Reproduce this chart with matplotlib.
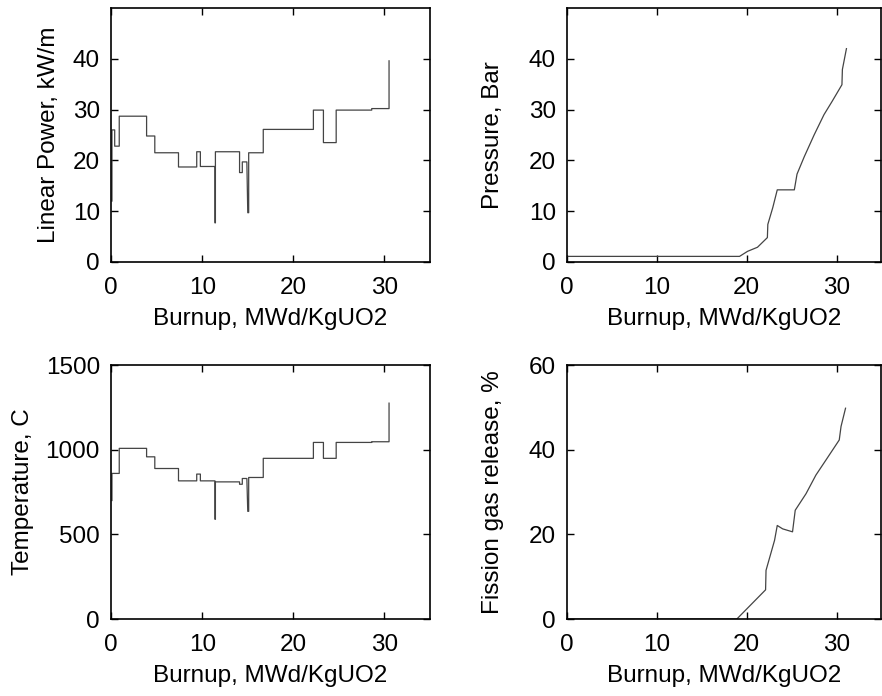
import matplotlib
matplotlib.use("Agg")
import matplotlib.pyplot as plt

# Burnup history (MWd/KgUO2)
burnup_lp = [0.1, 0.1, 0.4, 0.4, 0.9, 0.9, 3.9, 3.9, 4.8, 4.8, 7.4, 7.4, 9.4, 9.4,
             9.8, 9.8, 11.4, 11.4, 11.45, 11.45, 14.1, 14.1, 14.4, 14.4, 14.9,
             15.0, 15.1, 15.1, 16.7, 16.7, 22.2, 22.2, 23.3, 23.3, 24.7, 24.7,
             28.6, 28.6, 30.5, 30.5]
linear_power = [12.0, 26.0, 26.0, 22.8, 22.8, 28.7, 28.7, 24.8, 24.8, 21.5, 21.5,
                18.7, 18.7, 21.7, 21.7, 18.8, 18.8, 7.7, 7.7, 21.7, 21.7, 17.6,
                17.6, 19.7, 19.7, 9.7, 9.7, 21.5, 21.5, 26.1, 26.1, 29.9, 29.9,
                23.5, 23.5, 29.9, 29.9, 30.2, 30.2, 39.6]

burnup_t = [0.1, 0.1, 0.9, 0.9, 3.9, 3.9, 4.8, 4.8, 7.4, 7.4, 9.4, 9.4, 9.8, 9.8,
            11.4, 11.4, 11.45, 11.45, 14.1, 14.1, 14.4, 14.4, 14.9, 15.0, 15.1,
            15.1, 16.7, 16.7, 22.2, 22.2, 23.3, 23.3, 24.7, 24.7, 28.6, 28.6,
            30.5, 30.5]
temperature = [700, 860, 860, 1008, 1008, 958, 958, 889, 889, 816, 816, 856, 856,
               816, 816, 589, 589, 810, 810, 796, 796, 830, 830, 636, 636, 836,
               836, 949, 949, 1043, 1043, 949, 949, 1043, 1043, 1047, 1047, 1275]

burnup_p = [0, 19.2, 20.1, 21.2, 22.3, 22.35, 22.9, 23.4, 25.3, 25.6, 26.4, 27.5,
            28.6, 29.5, 30.6, 30.65, 31.1]
pressure = [1.1, 1.1, 2.1, 2.9, 4.8, 7.4, 10.7, 14.2, 14.2, 17.3, 20.7, 25.0,
            29.0, 31.6, 34.9, 37.9, 42.0]

burnup_f = [0, 18.9, 22.1, 22.15, 23.1, 23.4, 24.0, 25.1, 25.4, 26.6, 27.7, 28.8,
            30.3, 30.5, 31.0]
fgr = [0, 0, 6.9, 11.5, 18.6, 22.1, 21.3, 20.6, 25.7, 29.6, 34.0, 37.5, 42.3,
       45.5, 49.8]

XTICKS = [0, 10, 20, 30]
XLABEL = "Burnup, MWd/KgUO2"

plt.rcParams["font.family"] = "Liberation Sans"
plt.rcParams["font.size"] = 17.5

fig = plt.figure(figsize=(8.82, 6.96), dpi=100)

# (axes rect, x, y, ylim, yticks, ylabel, ylabel pad)
panels = [
    ([0.1259, 0.6236, 0.3617, 0.3649], burnup_lp, linear_power, (0, 50),
     [0, 10, 20, 30, 40], "Linear Power, kW/m", 9),
    ([0.6429, 0.6236, 0.3565, 0.3649], burnup_p, pressure, (0, 50),
     [0, 10, 20, 30, 40], "Pressure, Bar", 18),
    ([0.1259, 0.1106, 0.3617, 0.3649], burnup_t, temperature, (0, 1500),
     [0, 500, 1000, 1500], "Temperature, C", 8),
    ([0.6429, 0.1106, 0.3565, 0.3649], burnup_f, fgr, (0, 60),
     [0, 20, 40, 60], "Fission gas release, %", 18),
]

for rect, x, y, ylim, yticks, ylabel, ypad in panels:
    ax = fig.add_axes(rect)
    ax.plot(x, y, color="#444444", linewidth=0.9)
    ax.set_xlim(0, 35)
    ax.set_ylim(*ylim)
    ax.set_xticks(XTICKS)
    ax.set_yticks(yticks)
    ax.set_xlabel(XLABEL, labelpad=6)
    ax.set_ylabel(ylabel, labelpad=ypad)
    ax.tick_params(direction="in", top=True, right=True, length=5, width=1)
    ax.tick_params(axis="x", pad=11)
    ax.tick_params(axis="y", pad=8)
    for sp in ax.spines.values():
        sp.set_linewidth(1.2)

fig.savefig("out.png", dpi=100)
